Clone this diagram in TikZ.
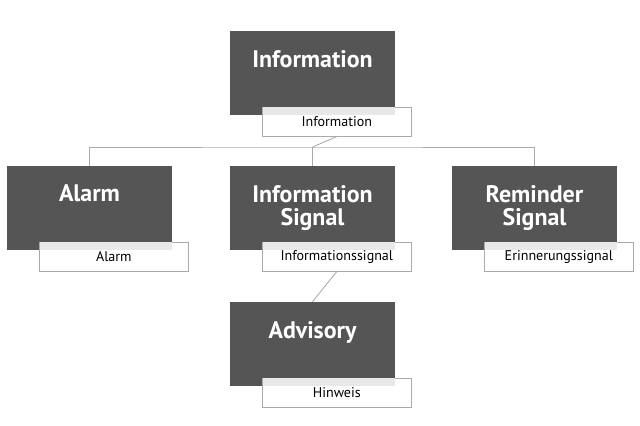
\documentclass[tikz,border=0pt]{standalone}
\usepackage{fontspec}
\setmainfont{PT Sans}
\usetikzlibrary{positioning}
\definecolor{boxgray}{HTML}{555555}
\definecolor{linegray}{HTML}{AAAAAA}
\definecolor{stripgray}{HTML}{E8E8E8}
\tikzset{
  term/.style={fill=boxgray, text=white, font=\fontsize{17}{19}\selectfont\bfseries,
    minimum width=4.125cm, minimum height=2.1cm, align=center, inner sep=0pt},
  transl/.style={fill=white, draw=linegray, font=\fontsize{10}{12}\selectfont,
    minimum width=3.725cm, minimum height=0.725cm, inner sep=0pt, anchor=north west},
  link/.style={draw=linegray, line width=0.6pt}
}
\begin{document}
\begin{tikzpicture}[x=0.025cm,y=-0.025cm]
  \useasboundingbox (0,0) rectangle (640,426);

  \node[term] (info) at (312.5,73) {Information\\[-2pt]\vphantom{g}};
  \node[term] (alarm) at (89.5,208) {Alarm\\[-2pt]\vphantom{g}};
  \node[term] (signal) at (312.5,208) {Information\\[-2pt]Signal};
  \node[term] (remind) at (534.5,208) {Reminder\\[-2pt]Signal};
  \node[term] (advis) at (312.5,344) {Advisory\\[-2pt]\vphantom{g}};

  \node[transl] (infoT) at (262,107) {Information};
  \node[transl] (alarmT) at (39,242) {Alarm};
  \node[transl] (signalT) at (262,242) {Informationssignal};
  \node[transl] (remindT) at (484,242) {Erinnerungssignal};
  \node[transl] (advisT) at (262,378) {Hinweis};

  % light strip where the labels overlap the boxes
  \foreach \x/\y/\r in {262/107/395, 39/242/172, 262/242/395, 484/242/617, 262/378/395}
    \fill[stripgray] (\x+0.5,\y+0.5) rectangle (\r,\y+8);

  \coordinate (bus) at (312.5,147);
  \draw[link] (infoT.south) -- (bus);
  \draw[link] (alarm.north) |- (bus) -| (remind.north);
  \draw[link] (bus) -- (signal.north);
  \draw[link] (signalT.south) -- (advis.north);
\end{tikzpicture}
\end{document}
